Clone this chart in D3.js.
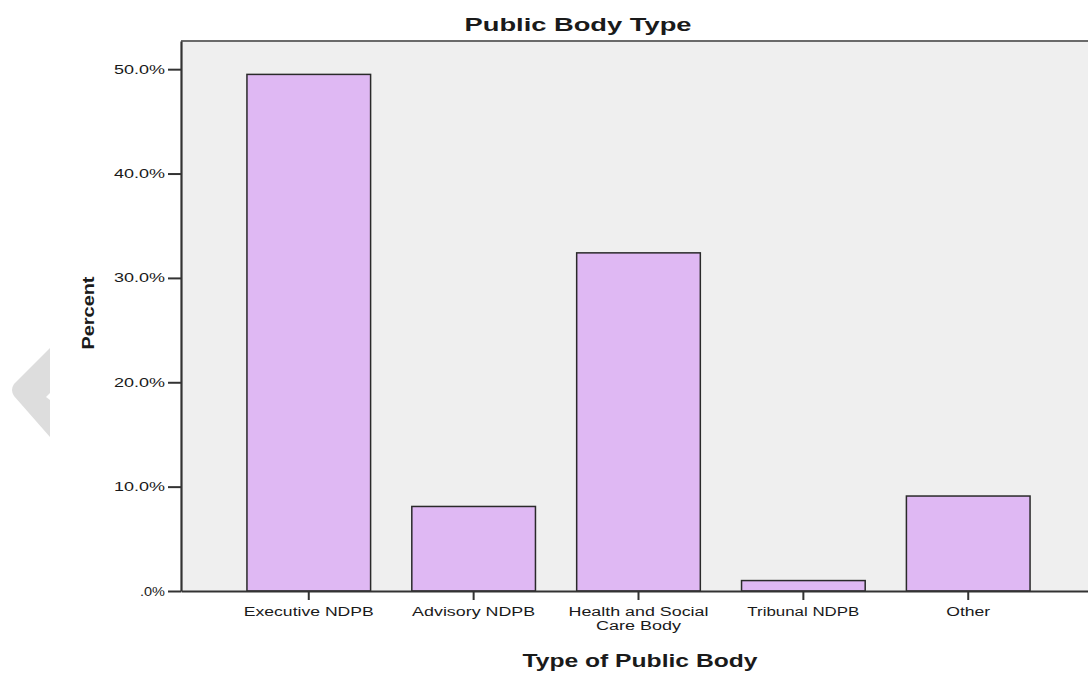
<!DOCTYPE html>
<html>
<head>
<meta charset="utf-8">
<script src="https://cdn.jsdelivr.net/npm/d3@7"></script>
<style>
  html, body { margin: 0; padding: 0; background: #ffffff; }
  svg { display: block; }
  text { font-family: "Liberation Sans", Arial, sans-serif; fill: #1a1a1a; }
</style>
</head>
<body>
<svg id="chart" width="1088" height="673"></svg>
<script>
// ---- data ----
const categories = ["Executive NDPB", "Advisory NDPB", "Health and Social Care Body", "Tribunal NDPB", "Other"];
const categoryLines = [["Executive NDPB"], ["Advisory NDPB"], ["Health and Social", "Care Body"], ["Tribunal NDPB"], ["Other"]];
const percentValues = [49.5, 8.1, 32.4, 1.0, 9.1];
const yTickValues = [0, 10, 20, 30, 40, 50];
const yTickLabels = [".0%", "10.0%", "20.0%", "30.0%", "40.0%", "50.0%"];
const chartTitle = "Public Body Type";
const xAxisTitle = "Type of Public Body";
const yAxisTitle = "Percent";

// ---- layout ----
const svg = d3.select("#chart");
const plot = { left: 181, top: 41, right: 1096, bottom: 591 };

const x = d3.scaleBand()
  .domain(categories)
  .range([plot.left, plot.right])
  .paddingInner(0.25)
  .paddingOuter(0.4);

const y = d3.scaleLinear()
  .domain([0, 52.7])
  .range([plot.bottom, plot.top]);

// left arrow artifact
svg.append("path")
  .attr("d", "M50,348 L14,384 Q10,390 14,396 L50,437 L50,400 L46,397 L50,393 Z")
  .attr("fill", "#dddddd");

// plot background
svg.append("rect")
  .attr("x", plot.left).attr("y", plot.top)
  .attr("width", plot.right - plot.left).attr("height", plot.bottom - plot.top)
  .attr("fill", "#efefef");

// top border
svg.append("line")
  .attr("x1", plot.left).attr("x2", plot.right)
  .attr("y1", plot.top).attr("y2", plot.top)
  .attr("stroke", "#6a6a6a").attr("stroke-width", 2);

// bars
svg.append("g").selectAll("rect")
  .data(percentValues)
  .join("rect")
  .attr("x", (d, i) => x(categories[i]))
  .attr("y", d => y(d))
  .attr("width", x.bandwidth())
  .attr("height", d => y(0) - y(d))
  .attr("fill", "#dfb8f3")
  .attr("stroke", "#2a2a2a")
  .attr("stroke-width", 1.5);

// y axis
const yAxis = d3.axisLeft(y)
  .tickValues(yTickValues)
  .tickFormat((d, i) => yTickLabels[i])
  .tickSize(13)
  .tickSizeOuter(0)
  .tickPadding(3);
const gy = svg.append("g").attr("transform", `translate(${plot.left},0)`).call(yAxis);
gy.select(".domain").attr("stroke", "#333").attr("stroke-width", 2.2);
gy.selectAll(".tick line").attr("stroke", "#333").attr("stroke-width", 2);
gy.selectAll(".tick text")
  .attr("font-size", 12.5)
  .attr("fill", "#222")
  .attr("font-family", "Liberation Sans, Arial, sans-serif")
  .attr("textLength", (d, i) => i === 0 ? 25 : 51)
  .attr("lengthAdjust", "spacingAndGlyphs");

// x axis
const xAxis = d3.axisBottom(x).tickSize(9).tickSizeOuter(0).tickFormat("");
const gx = svg.append("g").attr("transform", `translate(0,${plot.bottom})`).call(xAxis);
gx.select(".domain").attr("stroke", "#333").attr("stroke-width", 2);
gx.selectAll(".tick line").attr("stroke", "#333").attr("stroke-width", 2);

const labelWidths = { "Executive NDPB": 130, "Advisory NDPB": 123, "Health and Social": 140, "Care Body": 85, "Tribunal NDPB": 112, "Other": 44 };
categoryLines.forEach((lines, i) => {
  const cx = x(categories[i]) + x.bandwidth() / 2;
  lines.forEach((ln, j) => {
    svg.append("text")
      .attr("x", cx)
      .attr("y", 616 + j * 13.5)
      .attr("text-anchor", "middle")
      .attr("font-size", 12.5)
      .attr("textLength", labelWidths[ln])
      .attr("lengthAdjust", "spacingAndGlyphs")
      .text(ln);
  });
});

// titles
svg.append("text")
  .attr("x", 578).attr("y", 31)
  .attr("text-anchor", "middle")
  .attr("font-size", 18).attr("font-weight", "bold")
  .attr("textLength", 227).attr("lengthAdjust", "spacingAndGlyphs")
  .attr("fill", "#111")
  .text(chartTitle);

svg.append("text")
  .attr("x", 640).attr("y", 667)
  .attr("text-anchor", "middle")
  .attr("font-size", 19).attr("font-weight", "bold")
  .attr("textLength", 235).attr("lengthAdjust", "spacingAndGlyphs")
  .attr("fill", "#111")
  .text(xAxisTitle);

svg.append("text")
  .attr("transform", "translate(94,313) rotate(-90)")
  .attr("text-anchor", "middle")
  .attr("font-size", 17).attr("font-weight", "bold")
  .attr("textLength", 73).attr("lengthAdjust", "spacingAndGlyphs")
  .attr("fill", "#111")
  .text(yAxisTitle);
</script>
</body>
</html>
